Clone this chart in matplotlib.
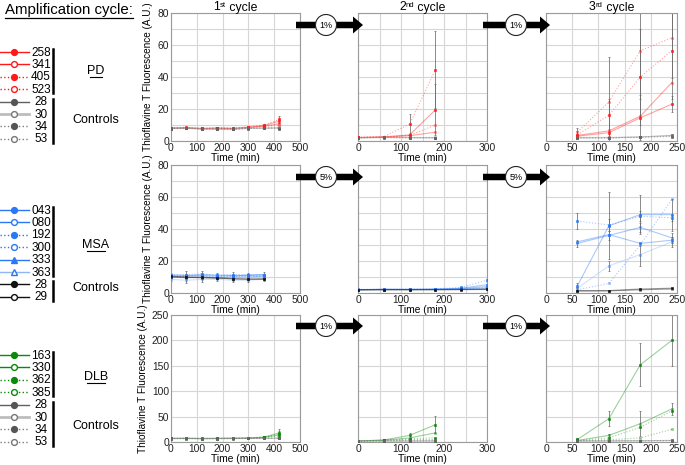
import numpy as np
import matplotlib
matplotlib.use('Agg')
import matplotlib.pyplot as plt
from matplotlib.patches import Circle, FancyArrow

plt.rcParams['font.family'] = ['Liberation Sans', 'DejaVu Sans']

#------------------------------------------------------------------------------
# data (ThT fluorescence, A.U.)
#------------------------------------------------------------------------------
t_c1 = [0, 60, 120, 180, 240, 300, 360, 420]
t_c1_msa = [0, 60, 120, 180, 240, 300, 360]
t_c2 = [0, 60, 120, 180]
t_c2_msa = [0, 60, 120, 180, 240, 300]
t_c3 = [60, 120, 180, 240]

pd_c1 = {
    '258': [8.0, 8.3, 7.9, 8.0, 7.8, 8.6, 9.6, 12.5],
    '341': [8.1, 8.2, 7.7, 8.1, 7.9, 8.4, 9.3, 10.8],
    '405': [8.2, 8.5, 8.0, 8.3, 8.1, 8.9, 10.0, 13.5],
    '523': [7.9, 8.0, 7.6, 7.8, 7.7, 8.2, 9.0, 10.0],
    '28':  [7.8, 8.0, 7.5, 7.4, 7.4, 7.9, 8.0, 8.1],
    '30':  [7.9, 8.1, 7.6, 7.6, 7.5, 8.0, 8.2, 8.4],
    '34':  [7.7, 7.9, 7.5, 7.3, 7.3, 7.8, 7.9, 7.8],
    '53':  [7.8, 7.9, 7.6, 7.5, 7.4, 7.9, 8.1, 8.6],
}
pd_c1_err = {'258': [0.3, 0.3, 0.3, 0.4, 0.4, 0.4, 0.6, 1.5],
             '405': [0.3, 0.3, 0.3, 0.3, 0.4, 0.5, 0.8, 2.0]}

pd_c2 = {
    '258': [2.2, 2.6, 3.8, 19.5],
    '341': [2.1, 2.4, 3.3, 5.5],
    '405': [2.3, 2.8, 10.5, 44.5],
    '523': [2.2, 2.5, 3.5, 10.0],
    '28':  [2.0, 2.2, 2.1, 2.0],
    '30':  [2.1, 2.3, 2.2, 2.1],
    '34':  [2.0, 2.1, 2.0, 2.0],
    '53':  [2.1, 2.2, 2.1, 2.2],
}
pd_c2_err = {'405': [0.3, 0.4, 6.5, 24.0], '258': [0.2, 0.3, 1.0, 16.0]}

pd_c3 = {
    '258': [3.0, 5.2, 14.5, 23.0],
    '341': [3.5, 6.3, 15.5, 36.5],
    '405': [4.0, 16.0, 40.0, 56.5],
    '523': [5.5, 24.5, 56.5, 64.5],
    '28':  [2.0, 2.0, 2.5, 3.5],
    '30':  [2.2, 2.3, 2.6, 3.0],
    '34':  [1.8, 1.9, 2.2, 2.8],
    '53':  [2.0, 2.1, 2.4, 3.2],
}
pd_c3_err = {'523': [2.5, 28.0, 30.0, 25.0], '405': [2.0, 10.0, 30.0, 30.0],
             '258': [1.0, 2.0, 14.0, 5.0]}

msa_c1 = {
    '043': [10.5, 10.8, 11.0, 10.5, 10.8, 11.0, 11.2],
    '080': [11.5, 11.0, 11.5, 11.2, 11.0, 11.3, 11.5],
    '192': [11.0, 11.5, 12.0, 11.0, 11.5, 11.0, 11.5],
    '300': [10.0, 10.5, 10.5, 10.0, 10.2, 10.5, 10.0],
    '333': [10.0, 9.5, 10.0, 9.5, 10.0, 10.0, 10.5],
    '363': [8.5, 8.0, 8.5, 8.5, 8.0, 8.0, 8.5],
    '28':  [10.5, 10.0, 9.8, 9.5, 8.8, 8.5, 8.5],
    '29':  [10.0, 9.8, 9.5, 9.2, 9.0, 8.8, 9.0],
}
msa_c1_err = {'192': [1.5, 2.0, 2.0, 1.8, 1.5, 1.5, 1.5],
              '363': [1.0, 1.5, 1.5, 1.2, 1.2, 1.0, 1.0]}

msa_c2 = {
    '043': [2.0, 2.3, 2.2, 2.3, 3.0, 5.2],
    '080': [2.1, 2.2, 2.3, 2.4, 2.6, 3.0],
    '192': [2.2, 2.4, 2.4, 2.6, 3.5, 8.0],
    '300': [2.0, 2.1, 2.2, 2.2, 2.5, 3.2],
    '333': [2.1, 2.3, 2.2, 2.3, 2.8, 4.0],
    '363': [2.0, 2.1, 2.1, 2.2, 2.3, 2.6],
    '28':  [2.0, 2.0, 2.0, 2.0, 2.1, 2.2],
    '29':  [2.0, 2.1, 2.1, 2.1, 2.2, 2.4],
}
msa_c2_err = {'043': [0.2, 0.3, 0.3, 0.3, 1.0, 1.5]}

msa_c3 = {
    '043': [4.5, 42.0, 49.0, 49.0],
    '080': [31.0, 36.0, 41.0, 34.5],
    '192': [45.0, 42.5, 48.0, 47.0],
    '300': [2.0, 6.0, 30.0, 58.5],
    '333': [32.0, 36.5, 31.0, 33.0],
    '363': [3.0, 17.0, 24.0, 32.0],
    '28':  [1.5, 1.5, 2.5, 3.0],
    '29':  [1.2, 1.3, 2.0, 2.5],
}
msa_c3_err = {'043': [1.5, 21.0, 12.0, 10.0], '192': [5.0, 4.0, 3.0, 2.0],
              '363': [1.0, 3.0, 7.0, 3.0], '080': [2.0, 3.0, 3.0, 3.0]}

dlb_c1 = {
    '163': [7.0, 7.2, 6.8, 7.0, 7.3, 7.8, 9.5, 18.0],
    '330': [7.2, 7.0, 6.9, 7.1, 7.2, 7.5, 9.0, 14.0],
    '362': [7.1, 7.3, 7.0, 7.2, 7.5, 8.0, 10.0, 16.0],
    '385': [7.0, 7.1, 6.8, 6.9, 7.0, 7.4, 8.5, 12.0],
    '28':  [6.8, 6.9, 6.7, 6.8, 6.9, 7.0, 7.2, 7.5],
    '30':  [6.9, 7.0, 6.8, 6.9, 7.0, 7.1, 7.4, 7.8],
    '34':  [6.7, 6.8, 6.6, 6.7, 6.8, 6.9, 7.0, 7.2],
    '53':  [6.8, 6.9, 6.7, 6.8, 6.9, 7.0, 7.3, 7.6],
}
dlb_c1_err = {'163': [0.5, 0.5, 0.5, 0.5, 0.6, 0.8, 1.5, 7.0],
              '362': [0.5, 0.5, 0.5, 0.5, 0.6, 0.8, 1.2, 5.0]}

dlb_c2 = {
    '163': [2.0, 4.0, 13.0, 34.0],
    '330': [2.1, 3.5, 8.0, 18.0],
    '362': [2.0, 3.2, 6.0, 8.5],
    '385': [2.0, 3.0, 4.5, 5.0],
    '28':  [2.0, 2.1, 2.0, 2.2],
    '30':  [2.1, 2.2, 2.1, 2.3],
    '34':  [1.9, 2.0, 1.9, 2.0],
    '53':  [2.0, 2.1, 2.0, 2.1],
}
dlb_c2_err = {'163': [0.3, 1.0, 5.0, 17.0]}

dlb_c3 = {
    '163': [5.0, 46.0, 152.0, 200.0],
    '330': [3.0, 13.0, 36.0, 65.0],
    '362': [3.0, 8.0, 29.0, 61.0],
    '385': [2.0, 4.5, 8.0, 25.0],
    '28':  [2.0, 2.2, 2.5, 3.0],
    '30':  [2.1, 2.3, 2.6, 3.2],
    '34':  [1.8, 2.0, 2.2, 2.6],
    '53':  [1.9, 2.1, 2.4, 2.8],
}
dlb_c3_err = {'163': [2.0, 15.0, 42.0, 50.0], '330': [1.0, 3.0, 25.0, 12.0]}

transfer_pct = [['1%', '1%'], ['5%', '5%'], ['1%', '1%']]
cycle_num = ['1', '2', '3']
cycle_sup = ['st', 'nd', 'rd']

#------------------------------------------------------------------------------
# styles: id -> (marker colour, line colour, linestyle, filled, marker)
#------------------------------------------------------------------------------
RED, BLUE, GREEN = '#ff1a1a', '#2a78f5', '#0a8a0a'
ctrl_sty = {
    '28': ('#555555', '#606060', '-', True, 'o'),
    '30': ('#777777', '#bdbdbd', '-', False, 'o'),
    '34': ('#555555', '#808080', ':', True, 'o'),
    '53': ('#777777', '#808080', ':', False, 'o'),
}
msa_ctrl_sty = {
    '28': ('#111111', '#111111', '-', True, 'o'),
    '29': ('#111111', '#111111', '-', False, 'o'),
}
pd_sty = {
    '258': (RED, RED, '-', True, 'o'),
    '341': (RED, RED, '-', False, 'o'),
    '405': (RED, RED, ':', True, 'o'),
    '523': (RED, RED, ':', False, 'o'),
}
msa_sty = {
    '043': (BLUE, BLUE, '-', True, 'o'),
    '080': (BLUE, BLUE, '-', False, 'o'),
    '192': (BLUE, BLUE, ':', True, 'o'),
    '300': (BLUE, BLUE, ':', False, 'o'),
    '333': (BLUE, BLUE, '-', True, '^'),
    '363': (BLUE, '#8fb6f5', '-', False, '^'),
}
dlb_sty = {
    '163': (GREEN, GREEN, '-', True, 'o'),
    '330': (GREEN, GREEN, '-', False, 'o'),
    '362': (GREEN, GREEN, ':', True, 'o'),
    '385': (GREEN, GREEN, ':', False, 'o'),
}

#------------------------------------------------------------------------------
fig = plt.figure(figsize=(6.85, 4.65), dpi=100)
W, H = 685.0, 465.0

def px_axes(x0, y0, x1, y1):
    # axes box given in pixel coords (top-left origin)
    return fig.add_axes([x0 / W, 1 - y1 / H, (x1 - x0) / W, (y1 - y0) / H])

def style_ax(ax, xmax, xmaj, xgrid, ymax, ymaj, ygrid, ylab):
    ax.set_xlim(0, xmax)
    ax.set_ylim(0, ymax)
    ax.set_xticks(np.arange(0, xmax + 1, xmaj))
    ax.set_xticks(np.arange(0, xmax + 1, xgrid), minor=True)
    ax.set_yticks(np.arange(0, ymax + 1, ymaj))
    ax.set_yticks(np.arange(0, ymax + 1, ygrid), minor=True)
    ax.grid(which='both', color='#d6d6d6', lw=0.8)
    ax.set_axisbelow(True)
    ax.tick_params(which='both', direction='in', length=0, labelsize=7.4,
                   pad=1.5, colors='#222222')
    for sp in ax.spines.values():
        sp.set_color('#9a9a9a')
        sp.set_linewidth(0.8)
    ax.set_xlabel('Time (min)', fontsize=7.4, labelpad=0)
    if ylab:
        ax.set_ylabel('Thioflavine T Fluorescence (A.U.)', fontsize=7.2,
                      labelpad=3)
    else:
        ax.set_yticklabels([])

def draw(ax, t, vals, errs, sty):
    for sid, y in vals.items():
        mc, lc, ls, filled, mk = sty[sid]
        if sid in errs:
            ax.errorbar(t, y, yerr=errs[sid], fmt='none', ecolor='#6a6a6a',
                        elinewidth=0.55, capsize=0.8, capthick=0.5, zorder=2)
        ax.plot(t, y, ls=ls, color=lc, lw=0.8, alpha=0.4, zorder=3)
        ax.plot(t, y, ls='none', marker='s', ms=1.8, mec=mc,
                mfc=mc, mew=0.4,
                alpha=1.0 if filled else 0.45, zorder=4)

cols = [(171, 300), (358, 487), (546, 677)]
rows = [(13, 141), (165, 293), (315, 442)]

panels = [
    [(t_c1, pd_c1, pd_c1_err), (t_c2, pd_c2, pd_c2_err), (t_c3, pd_c3, pd_c3_err)],
    [(t_c1_msa, msa_c1, msa_c1_err), (t_c2_msa, msa_c2, msa_c2_err),
     (t_c3, msa_c3, msa_c3_err)],
    [(t_c1, dlb_c1, dlb_c1_err), (t_c2, dlb_c2, dlb_c2_err), (t_c3, dlb_c3, dlb_c3_err)],
]
row_sty = [dict(pd_sty, **ctrl_sty), dict(msa_sty, **msa_ctrl_sty),
           dict(dlb_sty, **ctrl_sty)]
row_ylim = [(80, 20, 10), (80, 20, 10), (250, 50, 50)]
col_x = [(500, 100, 100), (300, 100, 50), (250, 50, 50)]

for r in range(3):
    for c in range(3):
        ax = px_axes(cols[c][0], rows[r][0], cols[c][1], rows[r][1])
        t, vals, errs = panels[r][c]
        draw(ax, t, vals, errs, row_sty[r])
        ymax, ymaj, ygrid = row_ylim[r]
        xmax, xmaj, xgrid = col_x[c]
        style_ax(ax, xmax, xmaj, xgrid, ymax, ymaj, ygrid, c == 0)

#------------------------------------------------------------------------------
# overlay in pixel coords: titles, arrows + legend
#------------------------------------------------------------------------------
ov = fig.add_axes([0, 0, 1, 1], zorder=10)
ov.set_xlim(0, W)
ov.set_ylim(H, 0)
ov.axis('off')
ov.patch.set_alpha(0)

# column titles, superscript built by hand so it stays inside the figure
rend = fig.canvas.get_renderer()
for c in range(3):
    base = 10.5
    fs = 8.8
    parts = [(cycle_num[c], fs, 0.0), (cycle_sup[c], fs * 0.62, 3.2),
             (' cycle', fs, 0.0)]
    arts = [ov.text(0, base - dy, s, fontsize=f, ha='left', va='baseline')
            for s, f, dy in parts]
    widths = [a.get_window_extent(rend).width for a in arts]
    x = (cols[c][0] + cols[c][1]) / 2 - sum(widths) / 2
    for a, w in zip(arts, widths):
        a.set_x(x)
        x += w

arrow_y = [25, 177, 326]
arrow_x = [(296, 363, 326), (483, 550, 516)]
for r in range(3):
    for k, (xa, xb, xc) in enumerate(arrow_x):
        y = arrow_y[r]
        ov.add_patch(FancyArrow(xa, y, xb - xa, 0, width=6.5, head_width=17,
                                head_length=10, length_includes_head=True,
                                color='black', lw=0))
        ov.add_patch(Circle((xc, y), 10.5, fc='white', ec='#222222', lw=0.8))
        ov.text(xc, y + 0.5, transfer_pct[r][k], ha='center', va='center',
                fontsize=6.5)

ov.text(5, 10, 'Amplification cycle:', fontsize=10.8, ha='left', va='center')
ov.plot([5, 133], [18.5, 18.5], color='black', lw=0.9)

def legend_block(y0, ids, sty, nctrl, cids, csty, name, name_y, ctrl_y):
    step = 12.4
    allids = ids + cids
    for i, sid in enumerate(allids):
        y = y0 + i * step
        s = sty[sid] if sid in sty else csty[sid]
        mc, lc, ls, filled, mk = s
        lw = 2.0 if lc == '#bdbdbd' else 1.0
        ov.plot([0, 29], [y, y], color=lc, ls=ls, lw=lw)
        ov.plot([14], [y], marker=mk, ms=4.2, mec=mc,
                mfc=mc if filled else 'white', mew=1.0)
        ov.text(41, y + 0.5, sid, ha='center', va='center', fontsize=8.5)
    n = len(ids)
    ov.plot([53, 53], [y0 - 3, y0 + (n - 1) * step + 4], color='black', lw=1.8)
    ov.plot([53, 53], [y0 + n * step - 3, y0 + (n + nctrl - 1) * step + 4],
            color='black', lw=1.8)
    ov.text(96, name_y, name, ha='center', va='center', fontsize=9)
    w = len(name) * 6.3
    ov.plot([96 - w / 2, 96 + w / 2], [name_y + 6, name_y + 6], color='black',
            lw=0.8)
    ov.text(96, ctrl_y, 'Controls', ha='center', va='center', fontsize=9)

legend_block(52, list(pd_sty), pd_sty, 4, list(ctrl_sty), ctrl_sty,
             'PD', 71, 120)
legend_block(210, list(msa_sty), msa_sty, 2, list(msa_ctrl_sty), msa_ctrl_sty,
             'MSA', 245, 288)
legend_block(355, list(dlb_sty), dlb_sty, 4, list(ctrl_sty), ctrl_sty,
             'DLB', 377, 426)

fig.savefig('out.png', dpi=100)
